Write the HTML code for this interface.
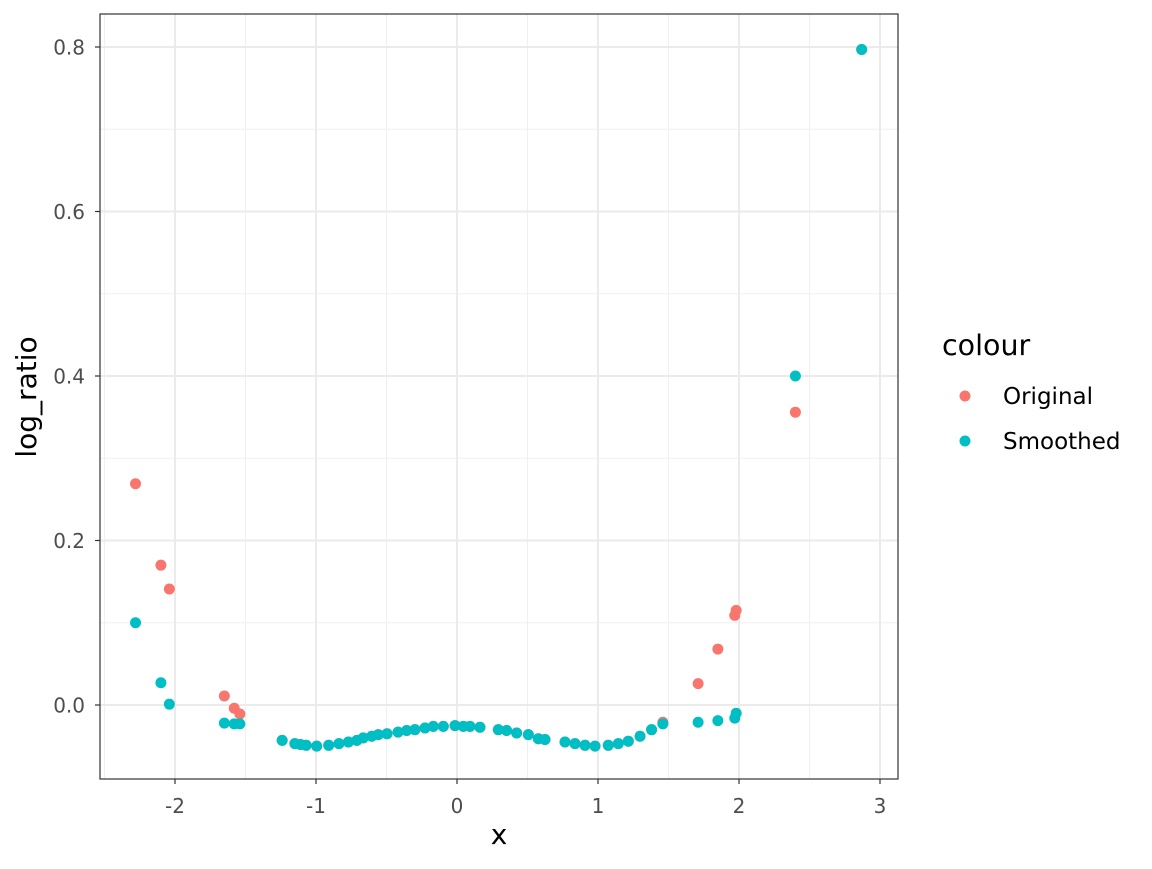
<!DOCTYPE html>
<html><head><meta charset="utf-8"><style>
body{margin:0;background:#fff;font-family:"DejaVu Sans","Liberation Sans",sans-serif}
</style></head><body>
<svg id="chart" width="1152" height="865" xmlns="http://www.w3.org/2000/svg" font-family="DejaVu Sans, Liberation Sans, sans-serif"></svg>
<script>
const xVals=[-2.28,-2.10,-2.04,-1.65,-1.58,-1.54,-1.24,-1.15,-1.11,-1.07,-0.995,-0.91,-0.837,-0.77,-0.71,-0.665,-0.605,-0.558,-0.496,-0.418,-0.357,-0.298,-0.227,-0.168,-0.097,-0.014,0.045,0.092,0.163,0.293,0.352,0.423,0.506,0.577,0.624,0.766,0.837,0.908,0.979,1.073,1.144,1.215,1.298,1.38,1.46,1.71,1.85,1.97,1.98,2.40,2.87];
const smoothed=[0.100,0.027,0.001,-0.022,-0.023,-0.023,-0.043,-0.047,-0.048,-0.049,-0.050,-0.049,-0.047,-0.045,-0.043,-0.040,-0.038,-0.036,-0.035,-0.033,-0.031,-0.030,-0.028,-0.026,-0.026,-0.025,-0.026,-0.026,-0.027,-0.030,-0.031,-0.034,-0.036,-0.041,-0.042,-0.045,-0.047,-0.049,-0.050,-0.049,-0.047,-0.044,-0.038,-0.030,-0.023,-0.021,-0.019,-0.016,-0.010,0.400,0.797];
const original=[0.269,0.170,0.141,0.011,-0.004,-0.011,-0.043,-0.047,-0.048,-0.049,-0.050,-0.049,-0.047,-0.045,-0.043,-0.040,-0.038,-0.036,-0.035,-0.033,-0.031,-0.030,-0.028,-0.026,-0.026,-0.025,-0.026,-0.026,-0.027,-0.030,-0.031,-0.034,-0.036,-0.041,-0.042,-0.045,-0.047,-0.049,-0.050,-0.049,-0.047,-0.044,-0.038,-0.030,-0.021,0.026,0.068,0.109,0.115,0.356,0.797];
const xTicks=[-2,-1,0,1,2,3];
const xTickLabels=["-2","-1","0","1","2","3"];
const yTicks=[0,0.2,0.4,0.6,0.8];
const yTickLabels=["0.0","0.2","0.4","0.6","0.8"];
const xMinor=[-2.5,-1.5,-0.5,0.5,1.5,2.5];
const yMinor=[0.1,0.3,0.5,0.7];
const L=100,R=898,T=14,B=779;
const sx=v=>457+v*141;
const sy=v=>705-v*822.5;
const svg=document.getElementById('chart');
const NS='http://www.w3.org/2000/svg';
function mk(tag,attrs,parent){const e=document.createElementNS(NS,tag);for(const k in attrs)e.setAttribute(k,attrs[k]);(parent||svg).appendChild(e);return e;}
const grid=mk('g',{});


xMinor.forEach(v=>mk('line',{x1:sx(v),x2:sx(v),y1:T,y2:B,stroke:'#f0f0f0','stroke-width':1},grid));
yMinor.forEach(v=>mk('line',{x1:L,x2:R,y1:sy(v),y2:sy(v),stroke:'#f0f0f0','stroke-width':1},grid));
xTicks.forEach(v=>mk('line',{x1:sx(v),x2:sx(v),y1:T,y2:B,stroke:'#ebebeb','stroke-width':2},grid));
yTicks.forEach(v=>mk('line',{x1:L,x2:R,y1:sy(v),y2:sy(v),stroke:'#ebebeb','stroke-width':2},grid));
const pts=mk('g',{});


xVals.forEach((x,i)=>{const c=mk('circle',{cx:sx(x),cy:sy(original[i]),r:5.5,fill:'#f8766d'},pts);

});
xVals.forEach((x,i)=>{const c=mk('circle',{cx:sx(x),cy:sy(smoothed[i]),r:5.5,fill:'#00bfc4'},pts);

});
const frame=mk('rect',{x:L,y:T,width:R-L,height:B-T,fill:'none',stroke:'#333','stroke-width':1.2});


xTicks.forEach((v,i)=>{mk('line',{x1:sx(v),x2:sx(v),y1:B,y2:B+5,stroke:'#333','stroke-width':1.2});
const t=mk('text',{x:sx(v),y:B+34,'text-anchor':'middle','font-size':20,fill:'#4d4d4d'});t.textContent=xTickLabels[i];

});
yTicks.forEach((v,i)=>{mk('line',{x1:L-5,x2:L,y1:sy(v),y2:sy(v),stroke:'#333','stroke-width':1.2});
const t=mk('text',{x:L-15,y:sy(v)+7.5,'text-anchor':'end','font-size':20,fill:'#4d4d4d'});t.textContent=yTickLabels[i];

});
const xt=mk('text',{x:(L+R)/2,y:844,'text-anchor':'middle','font-size':28,fill:'#000'});xt.textContent='x';


const yt=mk('text',{x:0,y:0,transform:'translate(36,397) rotate(-90)','text-anchor':'middle','font-size':28,fill:'#000'});yt.textContent='log_ratio';


const lg=mk('g',{});


const lt=mk('text',{x:942,y:355,'font-size':28.5,fill:'#000'},lg);lt.textContent='colour';


[['Original','#f8766d',396],['Smoothed','#00bfc4',441]].forEach(([n,c,y])=>{
const e=mk('g',{},lg);


mk('circle',{cx:965,cy:y,r:5.5,fill:c},e);
const t=mk('text',{x:1003,y:y+8,'font-size':23,fill:'#000'},e);t.textContent=n;});
</script>
</body></html>
